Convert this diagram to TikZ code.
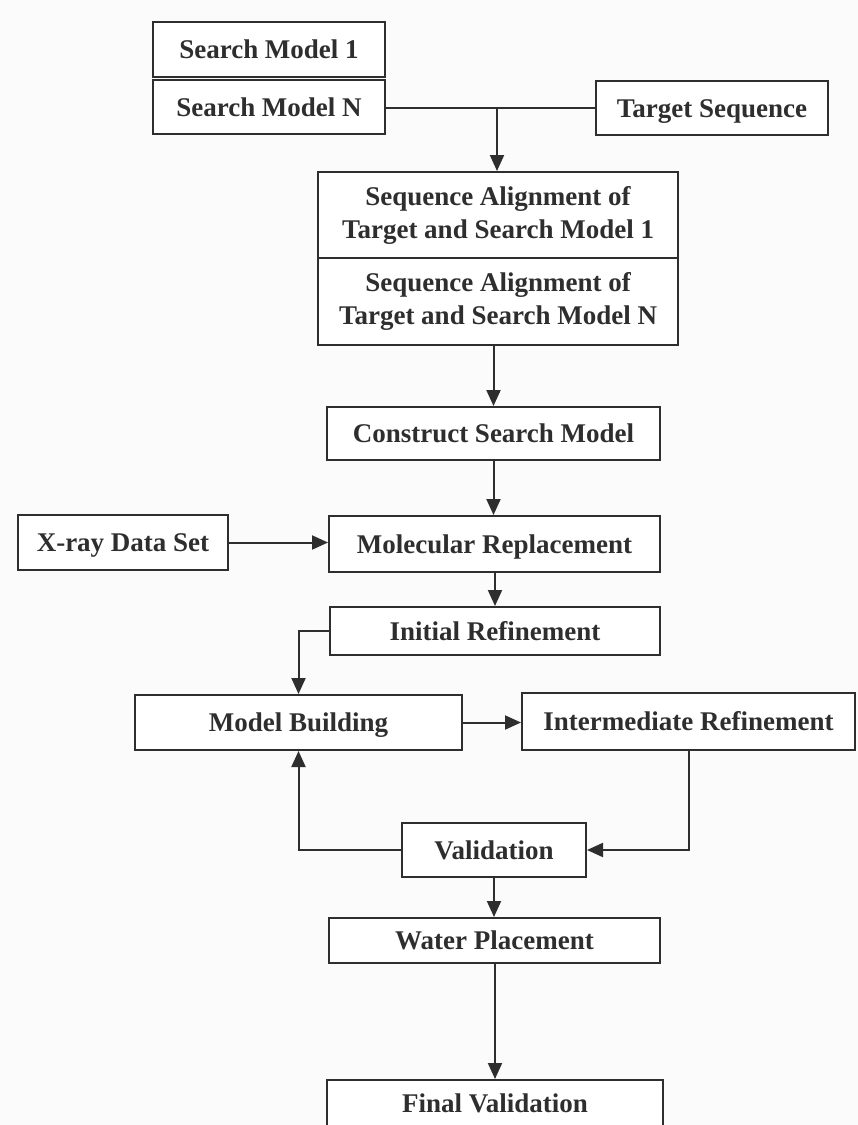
\documentclass[tikz,border=0pt]{standalone}
\usepackage{fontspec}
\setmainfont{Liberation Serif}
\usetikzlibrary{arrows.meta,calc}
\definecolor{ink}{HTML}{2E2E2E}
\definecolor{paper}{HTML}{FBFBFB}
\begin{document}
\begin{tikzpicture}[x=1pt,y=-1pt,
  stepbox/.style={draw=ink,line width=2pt,fill=white,align=center,
    inner sep=0pt,text=ink,
    font=\fontsize{27}{33}\selectfont\bfseries},
  onebox/.style={stepbox,text height=18pt,text depth=0pt},
  flow/.style={draw=ink,line width=2pt,-{Triangle[length=16pt,width=14pt]}},
  link/.style={draw=ink,line width=2pt}]
\useasboundingbox (0,0) rectangle (858,1125);
\fill[paper] (0,0) rectangle (858,1125);
\clip (0,0) rectangle (858,1125);

% input boxes
\node[onebox,minimum width=232pt,minimum height=55pt] (sm1) at (269,49.5) {Search Model 1};
\node[onebox,minimum width=232pt,minimum height=54pt] (smN) at (269,107) {Search Model N};
\node[onebox,minimum width=232pt,minimum height=54pt] (ts) at (712,108) {Target Sequence};

% alignments
\node[stepbox,minimum width=360pt,minimum height=86pt] (sa1) at (498,215) {Sequence Alignment of\\Target and Search Model 1};
\node[stepbox,minimum width=360pt,minimum height=87pt] (saN) at (498,301.5) {Sequence Alignment of\\Target and Search Model N};

% main pipeline
\node[onebox,minimum width=333pt,minimum height=53pt] (csm) at (493.5,433.5) {Construct Search Model};
\node[onebox,minimum width=210pt,minimum height=55pt] (xray) at (123,542.5) {X-ray Data Set};
\node[onebox,minimum width=331pt,minimum height=56pt] (mr) at (494.5,544) {Molecular Replacement};
\node[onebox,minimum width=330pt,minimum height=48pt] (ir) at (495,631) {Initial Refinement};
\node[onebox,minimum width=327pt,minimum height=55pt] (mb) at (298.5,722.5) {Model Building};
\node[onebox,minimum width=333pt,minimum height=57pt] (inr) at (688.5,721.5) {Intermediate Refinement};
\node[onebox,minimum width=184pt,minimum height=54pt] (val) at (494,850) {Validation};
\node[onebox,minimum width=331pt,minimum height=45pt] (wp) at (494.5,940.5) {Water Placement};
\node[stepbox,minimum width=336pt,minimum height=60pt,
  text height=18pt,text depth=14pt] (fv) at (495,1110) {Final Validation};

% connectors
\coordinate (j) at (497,108);
\draw[link] (smN.east |- j) -- (ts.west |- j);
\draw[flow] (j) -- (j |- sa1.north);
\draw[flow] (csm.north |- saN.south) -- (csm.north);
\draw[flow] (csm.south) -- (csm.south |- mr.north);
\draw[flow] (xray.east) -- (mr.west |- xray.east);
\draw[flow] (mr.south -| ir.north) -- (ir.north);
\draw[flow] (ir.west) -| (mb.north);
\draw[flow] (mb.east) -- (inr.west |- mb.east);
\draw[flow] (inr.south) |- (val.east);
\draw[flow] (val.west) -| (mb.south);
\draw[flow] (val.south) -- (val.south |- wp.north);
\draw[flow] (wp.south -| fv.north) -- (fv.north);
\end{tikzpicture}
\end{document}
